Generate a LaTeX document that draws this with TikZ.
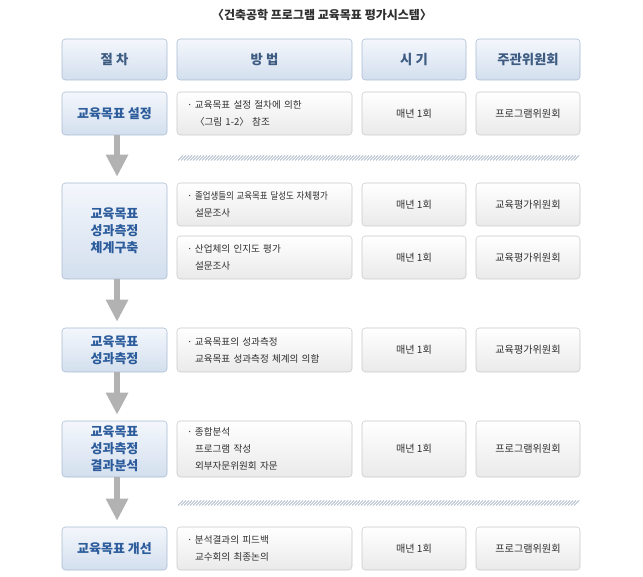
\documentclass[tikz,border=0pt]{standalone}
\usepackage{fontspec}
\setmainfont{Noto Sans CJK KR}
\usepackage{xcolor}
\usetikzlibrary{arrows.meta}
\definecolor{hdrtop}{RGB}{244,247,252}
\definecolor{hdrbot}{RGB}{211,223,238}
\definecolor{hdrline}{RGB}{168,186,209}
\definecolor{hdrtext}{RGB}{62,92,130}
\definecolor{stagetext}{RGB}{44,92,156}
\definecolor{cellbot}{RGB}{234,234,234}
\definecolor{cellline}{RGB}{200,200,200}
\definecolor{celltext}{RGB}{48,48,48}
\definecolor{flowgray}{RGB}{178,178,178}
\definecolor{hatchline}{RGB}{178,190,204}
\newcommand{\mbul}{\makebox[6pt][l]{·}}
\newcommand{\mind}{\hspace*{6pt}}

\begin{document}
\begin{tikzpicture}[x=0.75pt,y=0.75pt,yscale=-1,xscale=1,
    hdrbox/.style={draw=hdrline, top color=hdrtop, bottom color=hdrbot, rounded corners=2.5pt, inner sep=0pt, minimum height=30.75pt, text=hdrtext, font=\bfseries\fontsize{10}{12}\selectfont},
    stagebox/.style={hdrbox, minimum width=78.75pt, minimum height=32.25pt, align=center, text=stagetext, font=\bfseries\fontsize{9.75}{12.75}\selectfont},
    cellbox/.style={draw=cellline, top color=white, bottom color=cellbot, rounded corners=2.5pt, inner sep=0pt, minimum width=78pt, minimum height=32.25pt, text=celltext, font=\fontsize{7.6}{12.75}\selectfont},
    methodbox/.style={cellbox, minimum width=131.25pt, text width=116.25pt, inner xsep=7.5pt, align=left, font=\fontsize{7.2}{12.75}\selectfont},
    flowarrow/.style={draw=flowgray, line width=4.5pt, -{Triangle[width=15.75pt,length=16.5pt]}, shorten >=4.5pt}]
        \useasboundingbox (0,0) rectangle (643,577);

        %Title
        \node [text=celltext, font=\bfseries\fontsize{9}{11}\selectfont] (title) at (322,15) {〈건축공학 프로그램 교육목표 평가시스템〉};

        %Header row
        \node [hdrbox, minimum width=78.75pt] (h1) at (114.5,59.5) {절 차};
        \node [hdrbox, minimum width=131.25pt] (h2) at (264.5,59.5) {방 법};
        \node [hdrbox, minimum width=78pt] (h3) at (414,59.5) {시 기};
        \node [hdrbox, minimum width=78pt] (h4) at (528,59.5) {주관위원회};

        %Row: 설정
        \node [stagebox] (s1) at (114.5,113.5) {교육목표 설정};
        \node [methodbox] (m1) at (264.5,113.5) {\mbul 교육목표 설정 절차에 의한\\\mind〈그림 1-2〉 참조};
        \node [cellbox] (t1) at (414,113.5) {매년 1회};
        \node [cellbox] (c1) at (528,113.5) {프로그램위원회};

        %Row: 체계구축
        \node [stagebox, minimum height=72pt] (s2) at (114.5,231) {교육목표\\성과측정\\체계구축};
        \node [methodbox] (m2a) at (264.5,204.5) {\mbul\scalebox{0.88}[1]{졸업생들의 교육목표 달성도 자체평가}\\\mind 설문조사};
        \node [cellbox] (t2a) at (414,204.5) {매년 1회};
        \node [cellbox] (c2a) at (528,204.5) {교육평가위원회};
        \node [methodbox] (m2b) at (264.5,257.5) {\mbul 산업체의 인지도 평가\\\mind 설문조사};
        \node [cellbox] (t2b) at (414,257.5) {매년 1회};
        \node [cellbox] (c2b) at (528,257.5) {교육평가위원회};

        %Row: 성과측정
        \node [stagebox, minimum height=33pt] (s3) at (114.5,350) {교육목표\\성과측정};
        \node [methodbox, minimum height=33pt] (m3) at (264.5,350) {\mbul 교육목표의 성과측정\\\mind 교육목표 성과측정 체계의 의함};
        \node [cellbox, minimum height=33pt] (t3) at (414,350) {매년 1회};
        \node [cellbox, minimum height=33pt] (c3) at (528,350) {교육평가위원회};

        %Row: 결과분석
        \node [stagebox, minimum height=42pt] (s4) at (114.5,449) {교육목표\\성과측정\\결과분석};
        \node [methodbox, minimum height=42pt] (m4) at (264.5,449) {\mbul 종합분석\\\mind 프로그램 작성\\\mind 외부자문위원회 자문};
        \node [cellbox, minimum height=42pt] (t4) at (414,449) {매년 1회};
        \node [cellbox, minimum height=42pt] (c4) at (528,449) {프로그램위원회};

        %Row: 개선
        \node [stagebox] (s5) at (114.5,548.5) {교육목표 개선};
        \node [methodbox] (m5) at (264.5,548.5) {\mbul 분석결과의 피드백\\\mind 교수회의 최종논의};
        \node [cellbox] (t5) at (414,548.5) {매년 1회};
        \node [cellbox] (c5) at (528,548.5) {프로그램위원회};

        %Flow arrows
        \foreach \a/\b in {s1/s2,s2/s3,s3/s4,s4/s5}
            \draw [flowarrow] ([xshift=1.9pt]\a.south) -- ([xshift=1.9pt]\b.north);

        %Hatched separators
        \foreach \y in {158,503}
            \foreach \x in {178,181,...,575}
                \draw [hatchline, line width=0.6pt] (\x,\y+2.5) -- (\x+5,\y-2.5);
\end{tikzpicture}
\end{document}
